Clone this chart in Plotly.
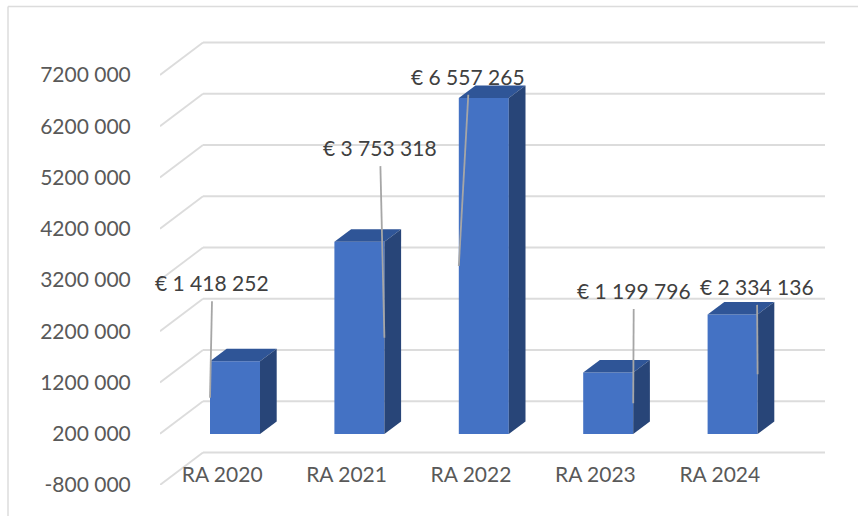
import plotly.graph_objects as go

categories = ["RA 2020", "RA 2021", "RA 2022", "RA 2023", "RA 2024"]
values = [1418252, 3753318, 6557265, 1199796, 2334136]
value_labels = ["€ 1 418 252", "€ 3 753 318", "€ 6 557 265", "€ 1 199 796", "€ 2 334 136"]
tick_values = [-800000, 200000, 1200000, 2200000, 3200000, 4200000, 5200000, 6200000, 7200000]
tick_labels = ["-800 000", "200 000", "1200 000", "2200 000", "3200 000",
               "4200 000", "5200 000", "6200 000", "7200 000"]

# layout geometry, in screen pixels
W, H = 858, 516
PL, PR, PT, PB = 160, 825, 30, 485
PX_PER_CAT = 124.4
PX_PER_VAL = 51.25e-6
FONT = "Lato"
GRID = "#dcdcdc"
XLABEL_AXIS_PX = 459.5


def dxp(px):
    return px / PX_PER_CAT


def dyp(px):
    return px / PX_PER_VAL


x_min = -0.5
x_max = x_min + dxp(PR - PL)
y_min = tick_values[0]
y_max = y_min + dyp(PB - PT)

# oblique wall / floor depth
wall_dx, wall_dy = dxp(43), dyp(32.5)
# bar plane relative to the front plane
bar_dx = dxp(12.8)
bar_w = dxp(50)
depth_dx, depth_dy = dxp(16.7), dyp(12.5)

# label placement relative to each bar (pixels)
label_dx = [-23, 21, -15.5, 25.5, 24.5]
label_up = [78.6, 94, 21.7, 82, 28]
leader_end_side = [-1, 1, -1, 1, 1]

FRONT = "#4472c4"
TOP = "#2f5597"
SIDE = "#284578"

fig = go.Figure()

xs = [i + bar_dx for i in range(len(values))]
floor = y_min + dyp(51)

fig.add_trace(go.Bar(x=xs, y=values, base=[floor for _ in values],
                     width=bar_w, marker=dict(color=FRONT, line=dict(width=0)),
                     showlegend=False, hoverinfo="skip"))

for x, v in zip(xs, values):
    top = floor + v
    l, r = x - bar_w / 2, x + bar_w / 2
    fig.add_trace(go.Scatter(
        x=[l, r, r + depth_dx, l + depth_dx, l], y=[top, top, top + depth_dy, top + depth_dy, top],
        mode="lines", fill="toself", fillcolor=TOP, line=dict(width=0), showlegend=False, hoverinfo="skip"))
    fig.add_trace(go.Scatter(
        x=[r, r + depth_dx, r + depth_dx, r, r],
        y=[floor, floor + depth_dy, top + depth_dy, top, floor],
        mode="lines", fill="toself", fillcolor=SIDE, line=dict(width=0), showlegend=False, hoverinfo="skip"))

for i, (x, v) in enumerate(zip(xs, values)):
    top = floor + v
    lx = x + dxp(label_dx[i])
    ly = top + dyp(label_up[i])
    fig.add_trace(go.Scatter(
        x=[lx, x + leader_end_side[i] * bar_w / 2], y=[ly - dyp(18.5), floor + v / 2],
        mode="lines", line=dict(color="#a6a6a6", width=1.8), showlegend=False, hoverinfo="skip"))
    fig.add_annotation(x=lx, y=ly, text=value_labels[i], showarrow=False, xanchor="center", yanchor="middle",
                       font=dict(family=FONT, size=21, color="#404040"))

shapes = []
for t in tick_values:
    shapes.append(dict(type="line", xref="x", yref="y", layer="below", x0=x_min, y0=t,
                       x1=x_min + wall_dx, y1=t + wall_dy, line=dict(color=GRID, width=1.8)))
    shapes.append(dict(type="line", xref="x", yref="y", layer="below", x0=x_min + wall_dx, y0=t + wall_dy,
                       x1=x_max, y1=t + wall_dy, line=dict(color=GRID, width=1.8)))

# outer frame of the pasted chart: left and top edges only
pw, ph = PR - PL, PB - PT
fx0, fx1 = (8 - PL) / pw, (W - PL) / pw
fy_top, fy_bot = (PB - 6.5) / ph, (PB - H) / ph
shapes.append(dict(type="line", xref="paper", yref="paper", x0=fx0, x1=fx0, y0=fy_bot, y1=fy_top,
                   line=dict(color=GRID, width=1.5)))
shapes.append(dict(type="line", xref="paper", yref="paper", x0=fx0, x1=fx1, y0=fy_top, y1=fy_top,
                   line=dict(color=GRID, width=1.5)))

fig.update_layout(
    width=W, height=H, autosize=False,
    margin=dict(l=PL, r=W - PR, t=PT, b=H - PB, pad=0),
    paper_bgcolor="white", plot_bgcolor="white",
    showlegend=False, shapes=shapes, barmode="overlay",
    xaxis=dict(range=[x_min, x_max], tickmode="array", tickvals=list(range(len(categories))),
               ticktext=categories, showgrid=False, zeroline=False, showline=False, ticks="",
               anchor="free", position=(PB - XLABEL_AXIS_PX) / ph, fixedrange=True,
               tickfont=dict(family=FONT, size=21, color="#595959")),
    yaxis=dict(range=[y_min, y_max], tickmode="array", tickvals=tick_values, ticktext=tick_labels,
               showgrid=False, zeroline=False, showline=False, ticks="outside", ticklen=24,
               tickcolor="rgba(0,0,0,0)", fixedrange=True,
               tickfont=dict(family=FONT, size=21, color="#595959")),
)

fig.write_html("out.html", config={"displayModeBar": False},
               post_script="document.documentElement.style.overflow='hidden';document.body.style.margin='0';")
